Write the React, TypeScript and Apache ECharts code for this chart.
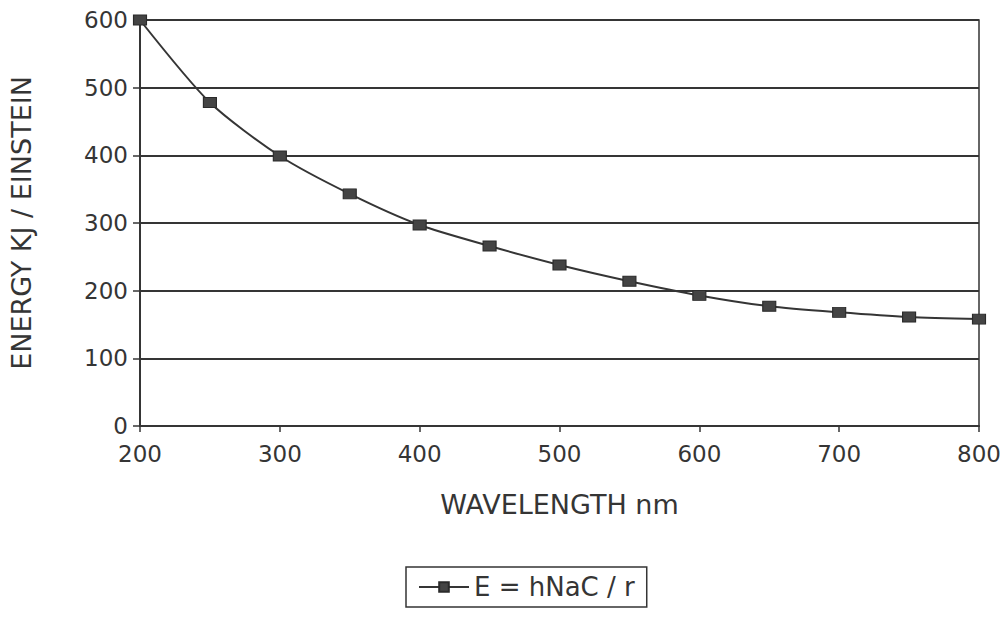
import React, { useEffect, useRef } from "react";
import * as echarts from "echarts";

const wavelengths = [200, 250, 300, 350, 400, 450, 500, 550, 600, 650, 700, 750, 800];
const energies = [600, 478, 399, 343, 297, 266, 238, 214, 193, 177, 168, 161, 158];
const seriesName = "E = hNaC / r";
const xTitle = "WAVELENGTH nm";
const yTitle = "ENERGY KJ / EINSTEIN";

const FONT = "'DejaVu Sans', 'Liberation Sans', Arial, sans-serif";
const INK = "#353535";

export default function App() {
  const ref = useRef<HTMLDivElement>(null);
  useEffect(() => {
    if (!ref.current) return;
    const chart = echarts.init(ref.current, undefined, { renderer: "svg" });
    chart.setOption({
      animation: false,
      backgroundColor: "#ffffff",
      textStyle: { fontFamily: FONT, color: INK },
      grid: {
        left: 140,
        right: 28,
        top: 20,
        bottom: 192,
        show: true,
        borderColor: INK,
        borderWidth: 1.5,
      },
      legend: {
        left: 406,
        top: 567,
        borderColor: INK,
        borderWidth: 1.5,
        borderRadius: 0,
        padding: [7, 12, 7, 12],
        itemWidth: 50,
        itemHeight: 12,
        itemGap: 4,
        textStyle: { fontFamily: FONT, fontSize: 26, color: INK },
        data: [seriesName],
      },
      xAxis: {
        type: "value",
        min: 200,
        max: 800,
        interval: 100,
        name: xTitle,
        nameLocation: "middle",
        nameGap: 65,
        nameTextStyle: { fontFamily: FONT, fontSize: 27, color: INK },
        axisLine: { show: true, lineStyle: { color: INK, width: 2 } },
        axisTick: { show: true, inside: false, length: 6, lineStyle: { color: INK, width: 1.5 } },
        axisLabel: { fontFamily: FONT, fontSize: 23, color: INK, margin: 16 },
        splitLine: { show: false },
      },
      yAxis: {
        type: "value",
        min: 0,
        max: 600,
        interval: 100,
        name: yTitle,
        nameLocation: "middle",
        nameGap: 105,
        nameTextStyle: { fontFamily: FONT, fontSize: 27, color: INK },
        axisLine: { show: true, lineStyle: { color: INK, width: 2 } },
        axisTick: { show: true, inside: false, length: 7, lineStyle: { color: INK, width: 1.5 } },
        axisLabel: { fontFamily: FONT, fontSize: 23, color: INK, margin: 12 },
        splitLine: { show: true, lineStyle: { color: INK, width: 2 } },
      },
      series: [
        {
          name: seriesName,
          type: "line",
          data: wavelengths.map((w, i) => [w, energies[i]]),
          smooth: 0.25,
          symbol: "rect",
          symbolSize: [13, 10],
          itemStyle: { color: "#444444", borderColor: "#2a2a2a", borderWidth: 1 },
          lineStyle: { color: INK, width: 2 },
        },
      ],
    });
    return () => chart.dispose();
  }, []);
  return <div ref={ref} style={{ width: 1007, height: 618, position: "absolute", left: 0, top: 0 }} />;
}
